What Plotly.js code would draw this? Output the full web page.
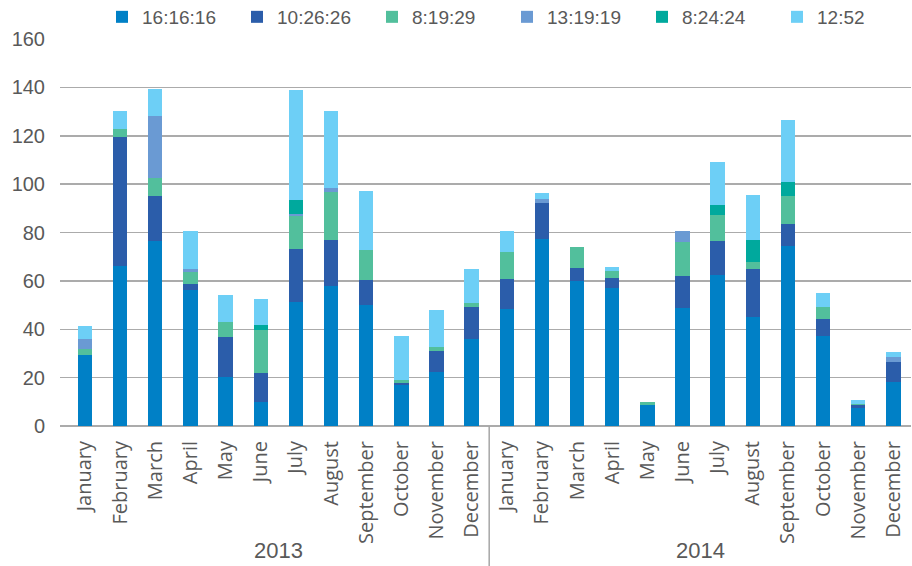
<!DOCTYPE html>
<html>
<head>
<meta charset="utf-8">
<script src="https://cdn.plot.ly/plotly-3.0.1.min.js"></script>
<style>html,body{margin:0;padding:0;background:#fff;}#chart{width:912px;height:566px;}</style>
</head>
<body>
<div id="chart"></div>
<script>
const years = ['2013', '2014'];
const months = ['January','February','March','April','May','June','July','August','September','October','November','December'];
const seriesNames = ['16:16:16', '10:26:26', '8:19:29', '13:19:19', '8:24:24', '12:52'];
const s16_16_16 = [29.2, 66.1, 76.4, 56.3, 20.1, 10.1, 51.2, 57.8, 49.9, 16.8, 22.2, 35.9, 48.3, 77.4, 60.0, 57.0, 8.6, 48.6, 62.3, 45.0, 74.3, 37.1, 7.3, 18.1];
const s10_26_26 = [0, 53.3, 18.6, 2.5, 16.6, 11.7, 21.9, 19.0, 10.4, 0.9, 8.7, 13.2, 12.4, 14.7, 5.2, 4.1, 0, 13.4, 14.1, 19.9, 9.1, 7.0, 1.3, 8.3];
const s8_19_29 = [2.5, 3.4, 7.5, 5.0, 6.2, 17.8, 13.7, 19.9, 12.4, 1.2, 1.7, 1.7, 11.2, 0, 8.7, 2.9, 1.2, 14.1, 10.8, 2.9, 11.6, 5.0, 0.4, 0];
const s13_19_19 = [4.2, 0, 25.6, 1.1, 0, 0, 0.8, 1.6, 0, 0, 0, 0, 0, 1.7, 0, 0, 0, 4.6, 0, 0, 0, 0, 0, 2.1];
const s8_24_24 = [0, 0, 0, 0, 0, 2.1, 5.8, 0, 0, 0, 0, 0, 0, 0, 0, 0, 0, 0, 4.1, 9.1, 5.8, 0, 0, 0];
const s12_52 = [5.3, 7.4, 11.2, 15.7, 11.2, 10.8, 45.5, 31.9, 24.4, 18.2, 15.3, 14.0, 8.7, 2.5, 0, 1.7, 0, 0, 17.8, 18.6, 25.7, 5.8, 1.6, 2.1];

const colors = ['#0080C6', '#2B5DAA', '#52BF9C', '#6A9AD3', '#00A99D', '#6DCFF6'];
const values = [s16_16_16, s10_26_26, s8_19_29, s13_19_19, s8_24_24, s12_52];

const tickText = [];
years.forEach(() => months.forEach(m => tickText.push(m)));
const xIdx = tickText.map((_, i) => i);

const traces = seriesNames.map((name, k) => ({
  type: 'bar',
  name: name,
  x: xIdx,
  y: values[k],
  marker: {color: colors[k], line: {width: 0}},
  hoverinfo: 'name+y'
}));

const gray = '#595959';
const annotations = years.map((yr, g) => ({
  text: yr,
  xref: 'x', yref: 'paper',
  x: g * months.length + (months.length - 1) / 2,
  y: -0.322,
  xanchor: 'center', yanchor: 'middle',
  showarrow: false,
  font: {family: 'Liberation Sans Narrow, Liberation Sans, sans-serif', size: 22, color: gray}
}));

const shapes = [];
for (let g = 1; g < years.length; g++) {
  shapes.push({
    type: 'line', xref: 'x', yref: 'paper',
    x0: g * months.length - 0.5, x1: g * months.length - 0.5,
    y0: 0, y1: -0.37,
    line: {color: '#A6A6A6', width: 1.5}
  });
}

const layout = {
  width: 912, height: 566,
  margin: {l: 60, r: 1, t: 39, b: 140},
  paper_bgcolor: '#ffffff', plot_bgcolor: '#ffffff',
  barmode: 'stack',
  bargap: 0.59,
  showlegend: true,
  legend: {
    orientation: 'h', traceorder: 'normal',
    xref: 'container', x: 1, xanchor: 'right',
    yref: 'container', y: 0.97, yanchor: 'middle',
    entrywidth: 90,
    font: {family: 'Liberation Sans Narrow, Liberation Sans, sans-serif', size: 19, color: gray},
    itemwidth: 30
  },
  xaxis: {
    type: 'linear',
    range: [-0.71, 23.5],
    tickmode: 'array', tickvals: xIdx, ticktext: tickText,
    tickangle: -90,
    ticks: '', showgrid: false, zeroline: false,
    showline: false,
    ticklabelstandoff: 10,
    tickfont: {family: 'Open Sans, sans-serif', size: 20, color: gray}
  },
  yaxis: {
    range: [0, 160], dtick: 20, tick0: 0,
    showgrid: true, gridcolor: '#ABABAB', gridwidth: 1.5,
    zeroline: true, zerolinecolor: '#ABABAB', zerolinewidth: 1.5,
    ticks: '', showline: false,
    ticklabelstandoff: 14,
    tickfont: {family: 'Liberation Sans Narrow, Liberation Sans, sans-serif', size: 20, color: gray}
  },
  annotations: annotations,
  shapes: shapes
};

Plotly.newPlot('chart', traces, layout, {displayModeBar: false, staticPlot: true});
</script>
</body>
</html>
